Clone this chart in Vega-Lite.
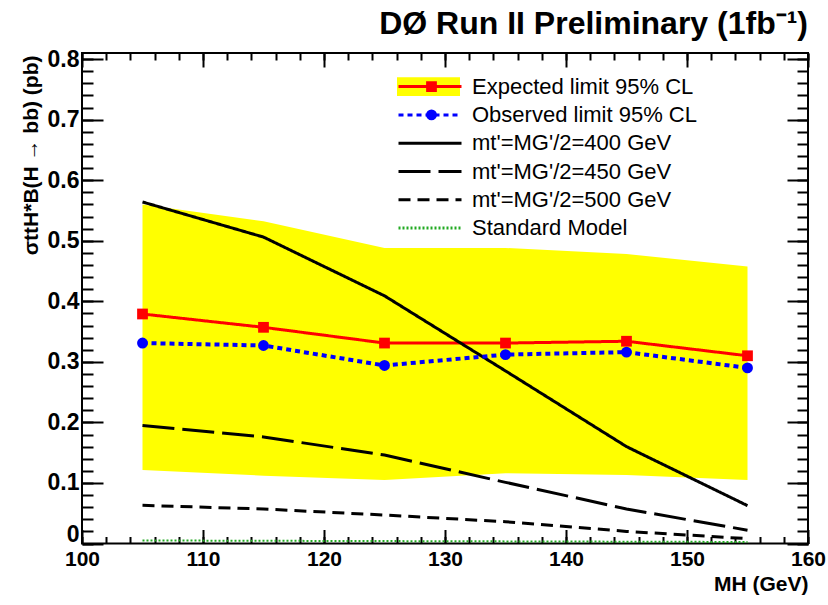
{
  "$schema": "https://vega.github.io/schema/vega-lite/v6.json",
  "width": 726,
  "height": 490.5,
  "autosize": {"type": "none"},
  "padding": {"left": 82, "top": 53, "right": 20, "bottom": 61.5},
  "background": "white",
  "title": {
    "text": "DØ Run II Preliminary (1fb⁻¹)",
    "anchor": "end",
    "frame": "group",
    "font": "Liberation Sans",
    "fontSize": 32,
    "fontWeight": "bold",
    "color": "black",
    "baseline": "alphabetic",
    "offset": 16.5,
    "dy": 34.5
  },
  "config": {
    "font": "Liberation Sans",
    "view": {"stroke": "black", "strokeWidth": 2},
    "axis": {"grid": false, "domain": false, "tickColor": "black", "tickWidth": 2, "zindex": 1}
  },
  "datasets": {
    "lines": [
      {"mh": 105, "v": 0.379, "s": "Expected limit 95% CL", "p": "pE"},
      {"mh": 115, "v": 0.357, "s": "Expected limit 95% CL", "p": "pE"},
      {"mh": 125, "v": 0.331, "s": "Expected limit 95% CL", "p": "pE"},
      {"mh": 135, "v": 0.331, "s": "Expected limit 95% CL", "p": "pE"},
      {"mh": 145, "v": 0.334, "s": "Expected limit 95% CL", "p": "pE"},
      {"mh": 155, "v": 0.310, "s": "Expected limit 95% CL", "p": "pE"},
      {"mh": 105, "v": 0.331, "s": "Observed limit 95% CL", "p": "pO"},
      {"mh": 115, "v": 0.327, "s": "Observed limit 95% CL", "p": "pO"},
      {"mh": 125, "v": 0.294, "s": "Observed limit 95% CL", "p": "pO"},
      {"mh": 135, "v": 0.312, "s": "Observed limit 95% CL", "p": "pO"},
      {"mh": 145, "v": 0.316, "s": "Observed limit 95% CL", "p": "pO"},
      {"mh": 155, "v": 0.290, "s": "Observed limit 95% CL", "p": "pO"},
      {"mh": 105, "v": 0.564, "s": "mt'=MG'/2=400 GeV", "p": "p400"},
      {"mh": 115, "v": 0.506, "s": "mt'=MG'/2=400 GeV", "p": "p400"},
      {"mh": 125, "v": 0.409, "s": "mt'=MG'/2=400 GeV", "p": "p400"},
      {"mh": 135, "v": 0.285, "s": "mt'=MG'/2=400 GeV", "p": "p400"},
      {"mh": 145, "v": 0.160, "s": "mt'=MG'/2=400 GeV", "p": "p400"},
      {"mh": 155, "v": 0.0625, "s": "mt'=MG'/2=400 GeV", "p": "p400"},
      {"mh": 105, "v": 0.195, "s": "mt'=MG'/2=450 GeV", "p": "p450"},
      {"mh": 115, "v": 0.176, "s": "mt'=MG'/2=450 GeV", "p": "p450"},
      {"mh": 125, "v": 0.146, "s": "mt'=MG'/2=450 GeV", "p": "p450"},
      {"mh": 135, "v": 0.101, "s": "mt'=MG'/2=450 GeV", "p": "p450"},
      {"mh": 145, "v": 0.057, "s": "mt'=MG'/2=450 GeV", "p": "p450"},
      {"mh": 155, "v": 0.022, "s": "mt'=MG'/2=450 GeV", "p": "p450"},
      {"mh": 105, "v": 0.063, "s": "mt'=MG'/2=500 GeV", "p": "p500"},
      {"mh": 115, "v": 0.057, "s": "mt'=MG'/2=500 GeV", "p": "p500"},
      {"mh": 125, "v": 0.047, "s": "mt'=MG'/2=500 GeV", "p": "p500"},
      {"mh": 135, "v": 0.036, "s": "mt'=MG'/2=500 GeV", "p": "p500"},
      {"mh": 145, "v": 0.020, "s": "mt'=MG'/2=500 GeV", "p": "p500"},
      {"mh": 155, "v": 0.008, "s": "mt'=MG'/2=500 GeV", "p": "p500"},
      {"mh": 105, "v": 0.005, "s": "Standard Model", "p": "pSM"},
      {"mh": 115, "v": 0.0045, "s": "Standard Model", "p": "pSM"},
      {"mh": 125, "v": 0.004, "s": "Standard Model", "p": "pSM"},
      {"mh": 135, "v": 0.0035, "s": "Standard Model", "p": "pSM"},
      {"mh": 145, "v": 0.003, "s": "Standard Model", "p": "pSM"},
      {"mh": 155, "v": 0.0025, "s": "Standard Model", "p": "pSM"}
    ],
    "band": [
      {"mh": 105, "lo": 0.1215, "hi": 0.560, "k": "bE"},
      {"mh": 115, "lo": 0.112, "hi": 0.532, "k": "bE"},
      {"mh": 125, "lo": 0.105, "hi": 0.488, "k": "bE"},
      {"mh": 135, "lo": 0.116, "hi": 0.488, "k": "bE"},
      {"mh": 145, "lo": 0.113, "hi": 0.478, "k": "bE"},
      {"mh": 155, "lo": 0.105, "hi": 0.4575, "k": "bE"}
    ]
  },
  "resolve": {
    "axis": {"x": "independent", "y": "independent"}
  },
  "layer": [
    {
      "data": {"name": "band"},
      "mark": {"type": "area", "opacity": 1, "strokeWidth": 0},
      "encoding": {
        "x": {"field": "mh", "type": "quantitative",
          "scale": {"domain": [100, 160], "nice": false, "zero": false},
          "axis": {"orient": "bottom", "values": [100, 110, 120, 130, 140, 150, 160], "tickSize": -14,
            "labelFont": "Liberation Sans", "labelFontWeight": "bold", "labelFontSize": 21, "labelColor": "black",
            "labelPadding": 19, "labelFlush": false, "labelOverlap": false, "labelBound": false, "format": "d",
            "title": "MH (GeV)", "titleFont": "Liberation Sans", "titleFontSize": 21, "titleFontWeight": "bold",
            "titleColor": "black", "titleX": 726, "titleY": 46.5, "titleAlign": "right", "titleBaseline": "alphabetic"}},
        "y": {"field": "lo", "type": "quantitative",
          "scale": {"domain": [0, 0.81], "nice": false, "zero": false},
          "axis": {"orient": "left", "values": [0, 0.1, 0.2, 0.3, 0.4, 0.5, 0.6, 0.7, 0.8], "tickSize": -21,
            "labelFont": "Liberation Sans", "labelFontWeight": "bold", "labelFontSize": 23, "labelColor": "black",
            "labelPadding": 24, "labelFlush": false, "labelOverlap": false, "labelBound": false, "format": "~g",
            "labelOffset": {"condition": {"test": "datum.value === 0", "value": -9}, "value": 0},
            "title": "σttH*B(H → bb) (pb)", "titleFont": "Liberation Sans", "titleFontSize": 21, "titleFontWeight": "bold",
            "titleColor": "black", "titleX": -51, "titleY": 2, "titleAngle": 270, "titleAlign": "right", "titleBaseline": "middle"}},
        "y2": {"field": "hi"},
        "fill": {"field": "k", "type": "nominal",
          "scale": {"domain": ["bE", "bO", "b400", "b450", "b500", "bSM"],
            "range": ["#ffff00", "transparent", "transparent", "transparent", "transparent", "transparent"]},
          "legend": {"orient": "none", "legendX": 315, "legendY": 21.6, "padding": 0, "offset": 0, "title": null,
            "symbolType": "M-1,-0.3H1V0.3H-1Z", "symbolSize": 3969, "symbolStrokeWidth": 0, "symbolOffset": 0,
            "labelFontSize": 22, "labelFont": "Liberation Sans", "labelExpr": "''", "labelOffset": 9, "labelLimit": 400,
            "rowPadding": 4.3, "clipHeight": 24, "zindex": 1}}
      }
    },
    {
      "data": {"name": "lines"},
      "transform": [{"filter": {"field": "s", "oneOf": ["Expected limit 95% CL", "mt'=MG'/2=400 GeV", "mt'=MG'/2=450 GeV", "mt'=MG'/2=500 GeV"]}}],
      "mark": {"type": "line", "strokeWidth": 3, "strokeCap": "butt"},
      "encoding": {
        "x": {"field": "mh", "type": "quantitative", "scale": {"domain": [100, 160], "nice": false, "zero": false},
          "axis": {"orient": "bottom", "values": [100,102,104,106,108,110,112,114,116,118,120,122,124,126,128,130,132,134,136,138,140,142,144,146,148,150,152,154,156,158,160],
            "tickSize": -7, "labels": false, "title": null}},
        "y": {"field": "v", "type": "quantitative", "scale": {"domain": [0, 0.81], "nice": false, "zero": false},
          "axis": {"orient": "left", "values": [0,0.02,0.04,0.06,0.08,0.1,0.12,0.14,0.16,0.18,0.2,0.22,0.24,0.26,0.28,0.3,0.32,0.34,0.36,0.38,0.4,0.42,0.44,0.46,0.48,0.5,0.52,0.54,0.56,0.58,0.6,0.62,0.64,0.66,0.68,0.7,0.72,0.74,0.76,0.78,0.8],
            "tickSize": -11, "labels": false, "title": null}},
        "color": {"field": "s", "type": "nominal",
          "scale": {"domain": ["Expected limit 95% CL", "Observed limit 95% CL", "mt'=MG'/2=400 GeV", "mt'=MG'/2=450 GeV", "mt'=MG'/2=500 GeV", "Standard Model"],
            "range": ["#ff0000", "#0000ff", "#000000", "#000000", "#000000", "#22aa22"]},
          "legend": {"orient": "none", "legendX": 315, "legendY": 21.6, "padding": 0, "offset": 0, "title": null,
            "symbolType": "stroke", "symbolSize": 3969, "symbolStrokeWidth": 3, "symbolOffset": 0,
            "labelFontSize": 22, "labelFont": "Liberation Sans", "labelColor": "black", "labelOffset": 9, "labelLimit": 400,
            "rowPadding": 4.3, "clipHeight": 24, "zindex": 2}},
        "strokeDash": {"field": "s", "type": "nominal",
          "scale": {"domain": ["Expected limit 95% CL", "Observed limit 95% CL", "mt'=MG'/2=400 GeV", "mt'=MG'/2=450 GeV", "mt'=MG'/2=500 GeV", "Standard Model"],
            "range": [[1, 0], [5, 4], [1, 0], [32, 8], [12, 7], [2, 2]]},
          "legend": {"orient": "none", "legendX": 315, "legendY": 21.6, "padding": 0, "offset": 0, "title": null,
            "symbolType": "stroke", "symbolSize": 3969, "symbolStrokeWidth": 3, "symbolOffset": 0,
            "labelFontSize": 22, "labelFont": "Liberation Sans", "labelColor": "black", "labelOffset": 9, "labelLimit": 400,
            "rowPadding": 4.3, "clipHeight": 24, "zindex": 2}}
      }
    },
    {
      "data": {"name": "lines"},
      "transform": [{"filter": {"field": "s", "equal": "Observed limit 95% CL"}}],
      "mark": {"type": "line", "strokeWidth": 4, "strokeCap": "butt"},
      "encoding": {
        "x": {"field": "mh", "type": "quantitative", "scale": {"domain": [100, 160], "nice": false, "zero": false},
          "axis": {"orient": "top", "values": [100, 110, 120, 130, 140, 150, 160], "tickSize": -14, "labels": false, "title": null}},
        "y": {"field": "v", "type": "quantitative", "scale": {"domain": [0, 0.81], "nice": false, "zero": false},
          "axis": {"orient": "right", "values": [0, 0.1, 0.2, 0.3, 0.4, 0.5, 0.6, 0.7, 0.8], "tickSize": -21, "labels": false, "title": null}},
        "color": {"field": "s", "type": "nominal",
          "scale": {"domain": ["Expected limit 95% CL", "Observed limit 95% CL", "mt'=MG'/2=400 GeV", "mt'=MG'/2=450 GeV", "mt'=MG'/2=500 GeV", "Standard Model"],
            "range": ["#ff0000", "#0000ff", "#000000", "#000000", "#000000", "#22aa22"]}},
        "strokeDash": {"field": "s", "type": "nominal",
          "scale": {"domain": ["Expected limit 95% CL", "Observed limit 95% CL", "mt'=MG'/2=400 GeV", "mt'=MG'/2=450 GeV", "mt'=MG'/2=500 GeV", "Standard Model"],
            "range": [[1, 0], [5, 4], [1, 0], [32, 8], [12, 7], [2, 2]]}}
      }
    },
    {
      "data": {"name": "lines"},
      "transform": [{"filter": {"field": "s", "equal": "Standard Model"}}],
      "mark": {"type": "line", "strokeWidth": 2, "strokeCap": "butt"},
      "encoding": {
        "x": {"field": "mh", "type": "quantitative", "scale": {"domain": [100, 160], "nice": false, "zero": false},
          "axis": {"orient": "top", "values": [100,102,104,106,108,110,112,114,116,118,120,122,124,126,128,130,132,134,136,138,140,142,144,146,148,150,152,154,156,158,160],
            "tickSize": -7, "labels": false, "title": null}},
        "y": {"field": "v", "type": "quantitative", "scale": {"domain": [0, 0.81], "nice": false, "zero": false},
          "axis": {"orient": "right", "values": [0,0.02,0.04,0.06,0.08,0.1,0.12,0.14,0.16,0.18,0.2,0.22,0.24,0.26,0.28,0.3,0.32,0.34,0.36,0.38,0.4,0.42,0.44,0.46,0.48,0.5,0.52,0.54,0.56,0.58,0.6,0.62,0.64,0.66,0.68,0.7,0.72,0.74,0.76,0.78,0.8],
            "tickSize": -11, "labels": false, "title": null}},
        "color": {"field": "s", "type": "nominal",
          "scale": {"domain": ["Expected limit 95% CL", "Observed limit 95% CL", "mt'=MG'/2=400 GeV", "mt'=MG'/2=450 GeV", "mt'=MG'/2=500 GeV", "Standard Model"],
            "range": ["#ff0000", "#0000ff", "#000000", "#000000", "#000000", "#22aa22"]}},
        "strokeDash": {"field": "s", "type": "nominal",
          "scale": {"domain": ["Expected limit 95% CL", "Observed limit 95% CL", "mt'=MG'/2=400 GeV", "mt'=MG'/2=450 GeV", "mt'=MG'/2=500 GeV", "Standard Model"],
            "range": [[1, 0], [5, 4], [1, 0], [32, 8], [12, 7], [2, 2]]}}
      }
    },
    {
      "data": {"name": "lines"},
      "transform": [{"filter": {"field": "p", "oneOf": ["pE", "pO"]}}],
      "mark": {"type": "point", "filled": false, "opacity": 1, "size": 3969, "strokeWidth": 5.4, "strokeJoin": "miter"},
      "encoding": {
        "x": {"field": "mh", "type": "quantitative", "scale": {"domain": [100, 160], "nice": false, "zero": false}, "axis": null},
        "y": {"field": "v", "type": "quantitative", "scale": {"domain": [0, 0.81], "nice": false, "zero": false}, "axis": null},
        "stroke": {"field": "p", "type": "nominal",
          "scale": {"domain": ["pE", "pO", "p400", "p450", "p500", "pSM"],
            "range": ["#ff0000", "#0000ff", "transparent", "transparent", "transparent", "transparent"]},
          "legend": {"orient": "none", "legendX": 315, "legendY": 21.6, "padding": 0, "offset": 0, "title": null,
            "symbolSize": 3969, "symbolStrokeWidth": 5.4, "symbolOffset": 0, "symbolFillColor": "transparent",
            "labelFontSize": 22, "labelFont": "Liberation Sans", "labelExpr": "''", "labelOffset": 9, "labelLimit": 400,
            "rowPadding": 4.3, "clipHeight": 24, "zindex": 3}},
        "shape": {"field": "p", "type": "nominal",
          "scale": {"domain": ["pE", "pO", "p400", "p450", "p500", "pSM"],
            "range": ["M-0.085,-0.085H0.085V0.085H-0.085Z", "M-0.087,0A0.087,0.087 0 1,0 0.087,0A0.087,0.087 0 1,0 -0.087,0Z", "circle", "circle", "circle", "circle"]},
          "legend": {"orient": "none", "legendX": 315, "legendY": 21.6, "padding": 0, "offset": 0, "title": null,
            "symbolSize": 3969, "symbolStrokeWidth": 5.4, "symbolOffset": 0, "symbolFillColor": "transparent",
            "labelFontSize": 22, "labelFont": "Liberation Sans", "labelExpr": "''", "labelOffset": 9, "labelLimit": 400,
            "rowPadding": 4.3, "clipHeight": 24, "zindex": 3}}
      }
    }
  ]
}
